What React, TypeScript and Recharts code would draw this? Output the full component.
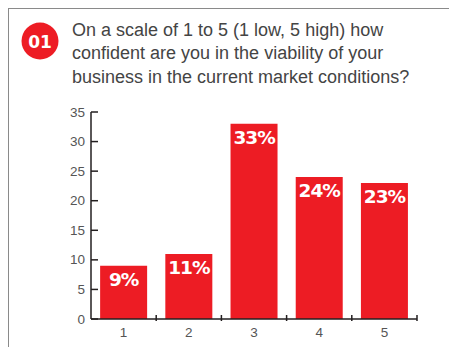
import { BarChart, Bar, XAxis, YAxis, LabelList } from 'recharts';

const categories = ['1', '2', '3', '4', '5'];
const shares = [9, 11, 33, 24, 23];
const yTicks = [0, 5, 10, 15, 20, 25, 30, 35];

const data = categories.map((c, i) => ({ score: c, share: shares[i] }));

const RED = '#ED1C24';
const AXIS = '#231f20';

const W = 449;
const H = 347;
const margin = { top: 112, right: 32, bottom: 8, left: 51 };
const yAxisWidth = 40;
const bandWidth = (W - margin.left - yAxisWidth - margin.right) / categories.length;

function YTick(props: any) {
  const { x, y, payload } = props;
  return (
    <g>
      <line x1={x + 6} x2={x + 13} y1={y} y2={y} stroke={AXIS} strokeWidth={1.5} />
      <text x={x} y={y} dy={4.5} textAnchor="end" fill="#555" fontSize={13.5}
        fontFamily="'Liberation Sans Narrow', 'Liberation Sans', sans-serif">
        {payload.value}
      </text>
    </g>
  );
}

function XTick(props: any) {
  const { x, y, payload } = props;
  const edge = x + bandWidth / 2;
  return (
    <g>
      <line x1={edge} x2={edge} y1={y - 6} y2={y} stroke={AXIS} strokeWidth={1.5} />
      <text x={x} y={y} dy={16} textAnchor="middle" fill="#555" fontSize={13.5}
        fontFamily="'Liberation Sans Narrow', 'Liberation Sans', sans-serif">
        {payload.value}
      </text>
    </g>
  );
}

function PctLabel(props: any) {
  const { x, y, width, value } = props;
  return (
    <text x={x + width / 2} y={y + 20} textAnchor="middle" fill="#fff"
      fontSize={18.5} fontWeight="bold" fontFamily="'DejaVu Sans', sans-serif" letterSpacing={-1}>
      {value}%
    </text>
  );
}

export default function App() {
  return (
    <div style={{ position: 'absolute', left: 0, top: 0, width: W, height: H, background: '#fff', overflow: 'hidden' }}>
      <div style={{ position: 'absolute', left: 8, top: 8, width: W, height: H, borderTop: '1.5px solid #8a8a8a', borderLeft: '1.5px solid #8a8a8a' }} />
      <svg style={{ position: 'absolute', left: 0, top: 0 }} width={W} height={100}>
        <circle cx={40} cy={41} r={18.5} fill={RED} />
        <text x={40} y={47.5} textAnchor="middle" fill="#fff" fontSize={17} fontWeight="bold"
          fontFamily="'DejaVu Sans', sans-serif">01</text>
        <g fill="#444" fontSize={18} fontFamily="'Liberation Sans', Arial, sans-serif">
          <text x={72} y={35.5}>On a scale of 1 to 5 (1 low, 5 high) how</text>
          <text x={72} y={59}>confident are you in the viability of your</text>
          <text x={72} y={82.5}>business in the current market conditions?</text>
        </g>
      </svg>
      <div style={{ position: 'absolute', left: 0, top: 0 }}>
        <BarChart width={W} height={H} data={data} margin={margin} barCategoryGap="14%">
          <XAxis dataKey="score" height={20} tickLine={false} tickSize={0} tick={<XTick />}
            axisLine={{ stroke: AXIS, strokeWidth: 1.5 }} interval={0} />
          <YAxis width={yAxisWidth} domain={[0, 35]} ticks={yTicks} tickLine={false} tickSize={0} tickMargin={6}
            tick={<YTick />} axisLine={{ stroke: AXIS, strokeWidth: 1.5 }} interval={0} />
          <Bar dataKey="share" fill={RED} isAnimationActive={false}>
            <LabelList dataKey="share" content={<PctLabel />} />
          </Bar>
        </BarChart>
      </div>
    </div>
  );
}
